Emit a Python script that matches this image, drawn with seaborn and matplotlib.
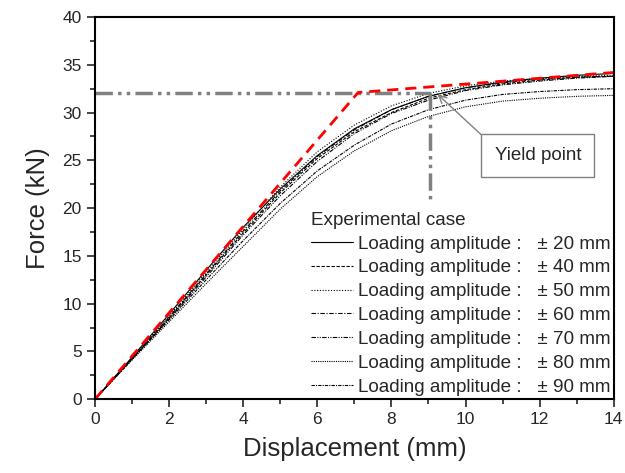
import matplotlib
matplotlib.use('Agg')
import pandas as pd
import seaborn as sns
from matplotlib import pyplot as plt

# displacement (mm) sampled every 1 mm
disp = [0, 1, 2, 3, 4, 5, 6, 7, 8, 9, 10, 11, 12, 13, 14]

amplitudes = ['± 20 mm', '± 40 mm', '± 50 mm', '± 60 mm', '± 70 mm', '± 80 mm', '± 90 mm']

force_20 = [0, 4.4, 8.9, 13.5, 18.0, 22.0, 25.5, 28.3, 30.3, 31.7, 32.6, 33.2, 33.6, 33.9, 34.1]
force_40 = [0, 4.2, 8.5, 13.0, 17.4, 21.6, 25.2, 28.0, 30.0, 31.5, 32.4, 33.0, 33.4, 33.7, 33.8]
force_50 = [0, 4.3, 8.7, 13.3, 17.8, 22.2, 25.9, 28.7, 30.7, 32.0, 32.8, 33.3, 33.6, 33.8, 33.9]
force_60 = [0, 4.3, 8.6, 13.1, 17.6, 21.8, 25.4, 28.2, 30.3, 31.7, 32.6, 33.1, 33.5, 33.7, 33.8]
force_70 = [0, 4.2, 8.4, 12.8, 17.2, 21.3, 24.9, 27.8, 29.9, 31.3, 32.3, 32.9, 33.3, 33.6, 33.8]
force_80 = [0, 4.1, 8.1, 12.1, 16.0, 19.9, 23.3, 26.0, 28.1, 29.6, 30.6, 31.2, 31.5, 31.7, 31.8]
force_90 = [0, 4.2, 8.3, 12.5, 16.6, 20.5, 23.9, 26.6, 28.8, 30.3, 31.3, 31.9, 32.2, 32.4, 32.5]

# bilinear idealisation (red dashed)
bilin_x = [0, 7.1, 14]
bilin_y = [0, 32.1, 34.2]

# yield point guide lines
yield_x = 9.04
yield_y = 32.0
guide_bottom = 21.0

sns.set_style('ticks')
plt.rcParams['font.family'] = ['Liberation Sans', 'DejaVu Sans']

curves = [force_20, force_40, force_50, force_60, force_70, force_80, force_90]
styles = ['-', (0, (3, 1.5)), (0, (1, 1.5)), (0, (4, 1.5, 1, 1.5)),
          (0, (4, 1.2, 1, 1.2, 1, 1.2)), (0, (1, 1)), (0, (3, 1, 1, 1))]

fig, ax = plt.subplots(figsize=(6.25, 4.73), dpi=100)
fig.subplots_adjust(left=0.152, right=0.982, bottom=0.156, top=0.964)

handles = []
for amp, force, ls in zip(amplitudes, curves, styles):
    df = pd.DataFrame({'disp': disp, 'force': force})
    sns.lineplot(data=df, x='disp', y='force', ax=ax, color='black', lw=0.8,
                 linestyle=ls, label='Loading amplitude :   ' + amp)
    handles.append(ax.lines[-1])

# yield point lines
ax.plot([0, yield_x], [yield_y, yield_y], color='#808080', lw=2.5,
        linestyle=(0, (5, 1.5, 1, 1.5, 1, 1.5)))
ax.plot([yield_x, yield_x], [yield_y, guide_bottom], color='#808080', lw=2.5,
        linestyle=(0, (5, 1.5, 1, 1.5, 1, 1.5)))

sns.lineplot(x=bilin_x, y=bilin_y, ax=ax, color='red', lw=2,
             linestyle=(0, (4, 2.5)), legend=False)

ax.annotate('Yield point', xy=(9.25, 31.9), xytext=(11.95, 25.5),
            fontsize=13.5, ha='center', va='center',
            bbox=dict(boxstyle='square,pad=0.7', fc='white', ec='#808080', lw=1),
            arrowprops=dict(arrowstyle='->', color='#808080', lw=1,
                            relpos=(0, 1), shrinkA=0, shrinkB=0))

ax.set_xlim(0, 14)
ax.set_ylim(0, 40)
ax.set_xticks(range(0, 15, 2))
ax.set_yticks(range(0, 41, 5))
ax.set_xticks(range(1, 14, 2), minor=True)
ax.set_yticks([2.5 + 5 * i for i in range(8)], minor=True)
ax.tick_params(which='major', length=6, width=1.2, labelsize=12.5, direction='out')
ax.tick_params(which='minor', length=3.5, width=1.2, direction='out')
for s in ax.spines.values():
    s.set_visible(True)
    s.set_linewidth(1.5)
    s.set_color('black')

ax.set_xlabel('Displacement (mm)', fontsize=18.5, labelpad=7)
ax.set_ylabel('Force (kN)', fontsize=18.5, labelpad=9)

leg = ax.legend(handles=handles, title='Experimental case', loc='lower right',
                bbox_to_anchor=(1.013, -0.015), frameon=False, fontsize=13.6,
                title_fontsize=13.6, handlelength=2.2, handletextpad=0.3,
                labelspacing=0.35, alignment='left', borderaxespad=0.1)

fig.savefig('out.png', dpi=100)
